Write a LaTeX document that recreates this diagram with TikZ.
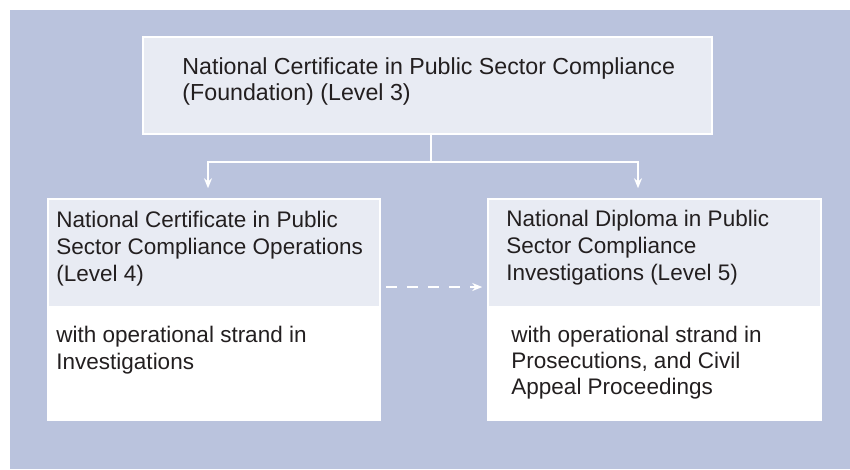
\documentclass[tikz,border=0pt]{standalone}
\usepackage{fontspec}
\setmainfont{Liberation Sans}
\usepackage{tikz}
\usetikzlibrary{arrows.meta,positioning}

\definecolor{panelblue}{HTML}{BAC3DD}
\definecolor{headfill}{HTML}{E8EBF3}
\definecolor{inkgray}{HTML}{231F20}

\begin{document}
\begin{tikzpicture}[x=1pt,y=-1pt,>={Stealth[length=10pt,width=8pt]},
  box/.style={rectangle,draw=white,line width=1.5pt,inner sep=0pt},
  headbox/.style={box,fill=headfill,minimum height=108pt},
  strandbox/.style={box,fill=white,minimum height=112pt},
  txt/.style={anchor=base west,align=left,inner sep=0pt,text=inkgray,
    font=\fontsize{22.5}{27}\selectfont},
  link/.style={draw=white,line width=2pt},
  dashlink/.style={link,line width=1.8pt,dash pattern=on 11pt off 10pt}]
  \useasboundingbox (0,0) rectangle (850,469);
  \fill[panelblue] (10,10) rectangle (850,469);

  \node[headbox,minimum width=569pt,minimum height=97pt] (found) at (427.5,85.5) {};
  \node[headbox,minimum width=332pt] (lvl4) at (214,253) {};
  \node[strandbox,minimum width=332pt,below=0pt of lvl4] (ops) {};
  \node[headbox,minimum width=333pt] (lvl5) at (654.5,253) {};
  \node[strandbox,minimum width=333pt,below=0pt of lvl5] (inv) {};

  % base anchor sits on the last line
  \node[txt,font=\fontsize{23.2}{26}\selectfont] (foundtext) at ([xshift=40pt,yshift=-64pt]found.north west)
    {National Certificate in Public Sector Compliance\\(Foundation) (Level 3)};
  \node[txt] (lvl4text) at ([xshift=9pt,yshift=-83pt]lvl4.north west)
    {National Certificate in Public\\Sector Compliance Operations\\(Level 4)};
  \node[txt] (opstext) at ([xshift=9pt,yshift=-62pt]ops.north west)
    {with operational strand in\\Investigations};
  \node[txt] (lvl5text) at ([xshift=19pt,yshift=-82pt]lvl5.north west)
    {National Diploma in Public\\Sector Compliance\\Investigations (Level 5)};
  \node[txt,font=\fontsize{22.5}{26}\selectfont] (invtext) at ([xshift=24pt,yshift=-87pt]inv.north west)
    {with operational strand in\\Prosecutions, and Civil\\Appeal Proceedings};

  \coordinate (split) at (431,162);
  \draw[link] (found.south -| split) -- (split);
  \draw[link,->,shorten >=10pt] (split) -| ([xshift=-6pt]lvl4.north);
  \draw[link,->,shorten >=10pt] (split) -| ([xshift=-16.5pt]lvl5.north);
  \draw[dashlink,->,shorten <=5pt,shorten >=5pt]
    ([yshift=-34pt]lvl4.east) -- ([yshift=-34pt]lvl5.west);
\end{tikzpicture}
\end{document}
